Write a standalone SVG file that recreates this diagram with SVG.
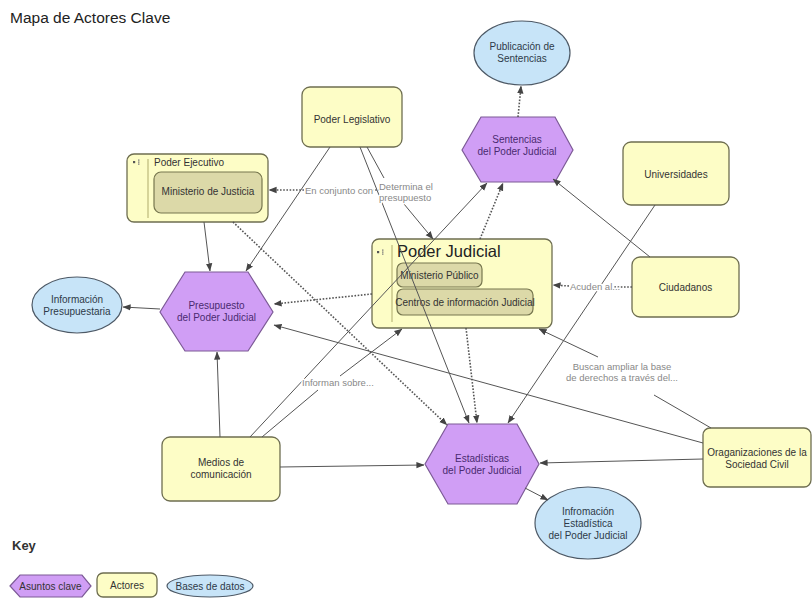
<svg xmlns="http://www.w3.org/2000/svg" width="812" height="602" viewBox="0 0 812 602">
<style>
text{font-family:"Liberation Sans",Arial,sans-serif;}
.actor{fill:#fdfdc6;stroke:#6e6e50;stroke-width:1.3;}
.inner{fill:#dcd9a8;stroke:#77774f;stroke-width:1.2;}
.hex{fill:#d09ef5;stroke:#7c5a96;stroke-width:1.2;}
.db{fill:#c7e4f8;stroke:#4d5966;stroke-width:1.2;}
.t{font-size:10px;fill:#333;text-anchor:middle;}
.th{font-size:10px;fill:#4a2a70;text-anchor:middle;}
.tb{font-size:10px;fill:#2e3a48;text-anchor:middle;}
.sep{stroke:#c9c68a;stroke-width:1.5;}
.ln{stroke:#555;stroke-width:1;fill:none;}
.dt{stroke:#555;stroke-width:1.6;fill:none;stroke-dasharray:1.6,1.6;}
.lbl{font-size:9.5px;fill:#888;paint-order:stroke;stroke:#fff;stroke-width:3px;stroke-linejoin:round;}
</style>
<defs>
<marker id="arr" viewBox="0 0 10 10" refX="9.5" refY="5" markerWidth="8" markerHeight="8" orient="auto" markerUnits="userSpaceOnUse">
<path d="M0,1 L10,5 L0,9 z" fill="#444"/>
</marker>
<g id="icon"><rect x="0" y="0" width="2.2" height="2.2" fill="#555"/><rect x="5" y="-1.5" width="1.5" height="1.2" fill="#777"/><rect x="5" y="0.5" width="1.5" height="1.2" fill="#777"/><rect x="5" y="2.5" width="1.5" height="1.2" fill="#777"/></g>
</defs>
<rect width="812" height="602" fill="#fff"/>
<text x="10" y="23" style="font-size:15.5px;fill:#222;">Mapa de Actores Clave</text>

<g id="publicacion">
<ellipse class="db" cx="522" cy="53" rx="48" ry="32"/>
<text class="tb" x="522" y="50">Publicación de</text>
<text class="tb" x="522" y="62">Sentencias</text>
</g>
<g id="legislativo">
<rect class="actor" x="302" y="87" width="100" height="60" rx="8"/>
<text class="t" x="352" y="123">Poder Legislativo</text>
</g>
<g id="sentencias">
<polygon class="hex" points="462,150 481,117 555,117 573,150 555,182 481,182"/>
<text class="th" x="517" y="143">Sentencias</text>
<text class="th" x="517" y="155">del Poder Judicial</text>
</g>
<g id="ejecutivo">
<rect class="actor" x="127" y="154" width="141" height="68" rx="7"/>
<line class="sep" x1="148" y1="159" x2="148" y2="218"/>
<use href="#icon" x="133" y="161"/>
<text x="154" y="166" style="font-size:10px;fill:#333;">Poder Ejecutivo</text>
<rect class="inner" x="154" y="172" width="108" height="41" rx="7"/>
<text class="t" x="208" y="195">Ministerio de Justicia</text>
</g>
<g id="universidades">
<rect class="actor" x="623" y="142" width="106" height="63" rx="8"/>
<text class="t" x="676" y="178">Universidades</text>
</g>
<g id="judicial">
<rect class="actor" x="372" y="239" width="180" height="89" rx="7"/>
<line class="sep" x1="392" y1="245" x2="392" y2="322"/>
<use href="#icon" x="377" y="251"/>
<text x="397" y="257" style="font-size:16.5px;fill:#222;">Poder Judicial</text>
<rect class="inner" x="397" y="263" width="85" height="24" rx="6"/>
<text class="t" x="439.5" y="279">Ministerio Público</text>
<rect class="inner" x="397" y="289" width="136" height="26" rx="6"/>
<text class="t" x="465" y="306">Centros de información Judicial</text>
</g>
<g id="ciudadanos">
<rect class="actor" x="632" y="257" width="107" height="60" rx="8"/>
<text class="t" x="685.5" y="291">Ciudadanos</text>
</g>
<g id="infopresupuestaria">
<ellipse class="db" cx="77" cy="305" rx="45" ry="28"/>
<text class="tb" x="77" y="303">Información</text>
<text class="tb" x="77" y="315">Presupuestaria</text>
</g>
<g id="presupuesto">
<polygon class="hex" points="160,312 185,272 248,272 273,312 248,351 185,351"/>
<text class="th" x="216.5" y="309">Presupuesto</text>
<text class="th" x="216.5" y="321">del Poder Judicial</text>
</g>
<g id="medios">
<rect class="actor" x="162" y="437" width="118" height="64" rx="8"/>
<text class="t" x="221" y="466">Medios de</text>
<text class="t" x="221" y="478">comunicación</text>
</g>
<g id="estadisticas">
<polygon class="hex" points="425,464 448,424 517,424 539,464 517,504 448,504"/>
<text class="th" x="482" y="462">Estadísticas</text>
<text class="th" x="482" y="474">del Poder Judicial</text>
</g>
<g id="osc">
<rect class="actor" x="703" y="428" width="108" height="59" rx="7"/>
<text class="t" x="757" y="456">Oraganizaciones de la</text>
<text class="t" x="757" y="468">Sociedad Civil</text>
</g>
<g id="infoestadistica">
<ellipse class="db" cx="588" cy="523" rx="53" ry="36"/>
<text class="tb" x="588" y="515">Infromación</text>
<text class="tb" x="588" y="527">Estadística</text>
<text class="tb" x="588" y="539">del Poder Judicial</text>
</g>

<g id="connectors">
<line class="ln" x1="330" y1="147" x2="246" y2="271" marker-end="url(#arr)"/>
<line class="ln" x1="360" y1="147" x2="469" y2="423" marker-end="url(#arr)"/>
<line class="ln" x1="367" y1="147" x2="384" y2="178"/>
<line class="ln" x1="404" y1="204" x2="433" y2="239" marker-end="url(#arr)"/>
<line class="dt" x1="380" y1="190" x2="366" y2="190"/>
<line class="dt" x1="304" y1="190" x2="269" y2="190" marker-end="url(#arr)"/>
<line class="ln" x1="204" y1="222" x2="210" y2="271" marker-end="url(#arr)"/>
<line class="dt" x1="233" y1="222" x2="447" y2="425" marker-end="url(#arr)"/>
<line class="dt" x1="372" y1="294" x2="274" y2="304" marker-end="url(#arr)"/>
<line class="ln" x1="160" y1="309" x2="123" y2="307" marker-end="url(#arr)"/>
<line class="ln" x1="220" y1="437" x2="217" y2="352" marker-end="url(#arr)"/>
<line class="ln" x1="250" y1="437" x2="487" y2="183" marker-end="url(#arr)"/>
<line class="ln" x1="262" y1="437" x2="318" y2="390"/>
<line class="ln" x1="340" y1="376" x2="402" y2="329" marker-end="url(#arr)"/>
<line class="ln" x1="280" y1="467" x2="424" y2="465" marker-end="url(#arr)"/>
<line class="dt" x1="466" y1="328" x2="477" y2="423" marker-end="url(#arr)"/>
<line class="dt" x1="480" y1="239" x2="503" y2="183" marker-end="url(#arr)"/>
<line class="dt" x1="518" y1="117" x2="521" y2="86" marker-end="url(#arr)"/>
<line class="ln" x1="650" y1="257" x2="553" y2="179" marker-end="url(#arr)"/>
<line class="dt" x1="632" y1="287" x2="613" y2="287"/>
<line class="dt" x1="569" y1="286" x2="553" y2="285" marker-end="url(#arr)"/>
<line class="ln" x1="655" y1="205" x2="508" y2="423" marker-end="url(#arr)"/>
<line class="ln" x1="703" y1="443" x2="274" y2="325" marker-end="url(#arr)"/>
<line class="ln" x1="711" y1="428" x2="654" y2="395"/>
<line class="ln" x1="598" y1="357" x2="539" y2="329" marker-end="url(#arr)"/>
<line class="ln" x1="703" y1="459" x2="540" y2="463" marker-end="url(#arr)"/>
<line class="ln" x1="525" y1="488" x2="548" y2="500" marker-end="url(#arr)"/>
<text class="lbl" x="305" y="194">En conjunto con</text>
<text class="lbl" x="379" y="190">Determina el</text>
<text class="lbl" x="379" y="201">presupuesto</text>
<text class="lbl" x="570" y="290">Acuden al...</text>
<text class="lbl" x="302" y="386">Informan sobre...</text>
<text class="lbl" x="622" y="370" text-anchor="middle">Buscan ampliar la base</text>
<text class="lbl" x="622" y="381" text-anchor="middle">de derechos a través del...</text>
</g>

<g id="key">
<text x="12" y="550" style="font-size:13px;font-weight:bold;fill:#333;">Key</text>
<polygon class="hex" points="10,586 20,575 82,575 91,586 82,597 20,597"/>
<text class="th" x="50.5" y="590" style="fill:#333;">Asuntos clave</text>
<rect class="actor" x="97" y="573" width="60" height="24" rx="6"/>
<text class="t" x="127" y="589">Actores</text>
<ellipse class="db" cx="210" cy="586" rx="43" ry="11"/>
<text class="tb" x="210" y="589.5">Bases de datos</text>
</g>
</svg>
